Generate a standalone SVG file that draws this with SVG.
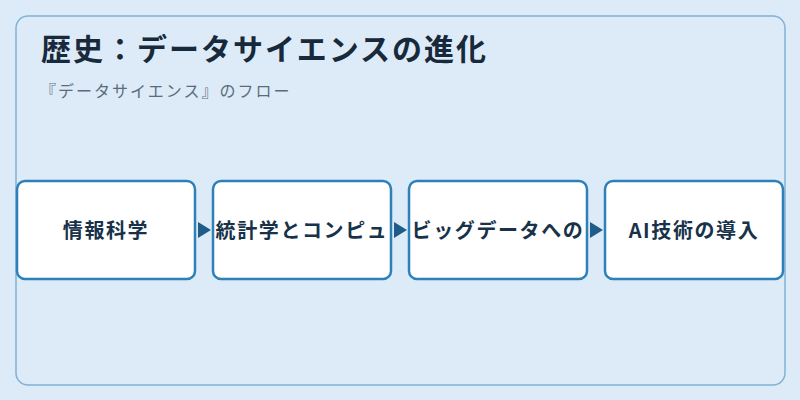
<svg xmlns="http://www.w3.org/2000/svg" width="800" height="400" viewBox="0 0 800 400">
<defs>
<style>
.title{font-family:"Noto Sans CJK JP","Noto Sans",sans-serif;font-size:30px;font-weight:bold;fill:#17293a;letter-spacing:2px}
.sub{font-family:"Noto Sans CJK JP","Noto Sans",sans-serif;font-size:16px;fill:#5b6b7b;letter-spacing:2px}
.box{fill:#ffffff;stroke:#2e80b8;stroke-width:2.5}
.lbl{font-family:"Noto Sans CJK JP","Noto Sans",sans-serif;font-size:20px;font-weight:bold;fill:#18324a;text-anchor:middle;letter-spacing:1.6px}
.arr{fill:#1f5c88}
</style>
</defs>
<rect x="0" y="0" width="800" height="400" fill="#dcebf7"/>
<rect x="16" y="16" width="769" height="369" rx="12" fill="#dcebf7" stroke="#7fb2d6" stroke-width="1.5"/>
<text class="title" x="41" y="60">歴史：データサイエンスの進化</text>
<text class="sub" x="40" y="97">『データサイエンス』のフロー</text>
<g id="connectors">
<polygon class="arr" points="198,222 211,230 198,238"/>
<polygon class="arr" points="394,222 407,230 394,238"/>
<polygon class="arr" points="590,222 603,230 590,238"/>
</g>
<g id="node1"><rect class="box" x="17" y="181" width="178" height="98" rx="8"/><text class="lbl" x="106" y="238">情報科学</text></g>
<g id="node2"><rect class="box" x="213" y="181" width="178" height="98" rx="8"/><text class="lbl" x="302" y="238">統計学とコンピュ</text></g>
<g id="node3"><rect class="box" x="409" y="181" width="178" height="98" rx="8"/><text class="lbl" x="498" y="238">ビッグデータへの</text></g>
<g id="node4"><rect class="box" x="605" y="181" width="178" height="98" rx="8"/><text class="lbl" x="694" y="238">AI技術の導入</text></g>
</svg>
